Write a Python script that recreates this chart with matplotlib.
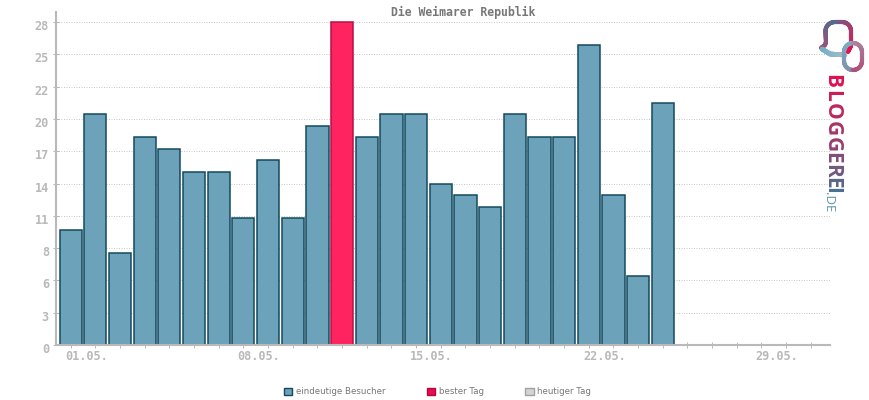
import numpy as np
import matplotlib
matplotlib.use("Agg")
import matplotlib.pyplot as plt
from matplotlib.patches import Patch
from matplotlib.collections import LineCollection
from matplotlib.colors import to_rgb
from matplotlib.transforms import ScaledTranslation

title = "Die Weimarer Republik"
days = list(range(1, 32))
visitors = [10, 20, 8, 18, 17, 15, 15, 11, 16, 11, 19, 28, 18, 20, 20, 14, 13, 12,
            20, 18, 18, 26, 13, 6, 21]
best_day = 12
y_ticks = [0, 2.8, 5.6, 8.4, 11.2, 14, 16.8, 19.6, 22.4, 25.2, 28]
y_labels = ["0", "3", "6", "8", "11", "14", "17", "20", "22", "25", "28"]
x_label_days = [1, 8, 15, 22, 29]
x_labels = ["01.05.", "08.05.", "15.05.", "22.05.", "29.05."]
legend_labels = ["eindeutige Besucher", "bester Tag", "heutiger Tag"]

BLUE, EDGE = "#6ca3bb", "#134a5e"
RED, RED_EDGE = "#ff2460", "#b80f45"
GREY = "#b9b9b9"
W, H = 870, 400
MONO = "DejaVu Sans Mono"

fig = plt.figure(figsize=(W / 100, H / 100), dpi=100, facecolor="white")
ax = fig.add_axes([56 / W, 1 - 345 / H, (830 - 56) / W, (345 - 12) / H])
px_per_day = (810.8 - 70.7) / 30
ax.set_xlim(1 + (56 - 70.7) / px_per_day, 1 + (830 - 70.7) / px_per_day)
ax.set_ylim(0, 28 * 333 / 323)

colors = [RED if d == best_day else BLUE for d in days[:len(visitors)]]
edges = [RED_EDGE if d == best_day else EDGE for d in days[:len(visitors)]]
ax.bar(days[:len(visitors)], visitors, width=0.9, color=colors, edgecolor=edges,
       linewidth=1.1, zorder=2, clip_on=False)

ax.set_yticks(y_ticks, y_labels)
ax.set_xticks(days)
ax.set_xticklabels([])
ax.grid(axis="y", color="#c8c8c8", linestyle=(0, (1, 1.5)), linewidth=0.72, zorder=1)
ax.set_axisbelow(True)
for side in ("top", "right"):
    ax.spines[side].set_visible(False)
for side in ("left", "bottom"):
    ax.spines[side].set_color(GREY)
    ax.spines[side].set_linewidth(1.5)
    ax.spines[side].set_zorder(3)
ax.tick_params(axis="both", direction="inout", length=3.8, width=0.72, color=GREY,
               labelcolor=GREY, labelsize=8.6)
ax.tick_params(axis="y", pad=3.2)
shift = ScaledTranslation(0, -3 / 100, fig.dpi_scale_trans)
for lab in ax.get_yticklabels():
    lab.set_fontfamily(MONO)
    lab.set_fontweight("bold")
    lab.set_transform(lab.get_transform() + shift)
for d, lab in zip(x_label_days, x_labels):
    ax.annotate(lab, (d, 0), xytext=(15.5 * 0.72, -8), textcoords="offset points",
                ha="center", va="center", color=GREY, fontsize=8.6,
                family=MONO, fontweight="bold", annotation_clip=False)

fig.text(463 / W, 1 - 12 / H, title, ha="center", va="center", fontsize=8.3,
         family=MONO, fontweight="bold", color="#777777")

handles = [Patch(facecolor=BLUE, edgecolor=EDGE, linewidth=1),
           Patch(facecolor="#f5054f", edgecolor="#a01040", linewidth=1),
           Patch(facecolor="#d3d3d3", edgecolor="#a0a0a0", linewidth=1)]
fig.legend(handles, legend_labels, ncol=3, frameon=False, loc="center left",
           bbox_to_anchor=(284 / W, 1 - 392 / H),
           prop={"family": "DejaVu Sans", "size": 6.25}, labelcolor="#777777",
           handlelength=0.95, handleheight=0.95, handletextpad=0.45, columnspacing=4.75,
           borderpad=0, borderaxespad=0)

# Blogger logo drawn in pixel coordinates
logo = fig.add_axes([0, 0, 1, 1], facecolor="none", zorder=5)
logo.set_xlim(0, W)
logo.set_ylim(H, 0)
logo.axis("off")


def grad(pts, c0, c1, lw):
    pts = np.asarray(pts, float)
    t = np.linspace(0, 1, 80)
    s = np.r_[0, np.cumsum(np.hypot(*np.diff(pts, axis=0).T))]
    xy = np.c_[np.interp(t * s[-1], s, pts[:, 0]), np.interp(t * s[-1], s, pts[:, 1])]
    seg = np.stack([xy[:-1], xy[1:]], axis=1)
    a, b = np.array(to_rgb(c0)), np.array(to_rgb(c1))
    cols = [a + (b - a) * v for v in t[:-1]]
    logo.add_collection(LineCollection(seg, colors=cols, linewidths=lw, capstyle="round"))


def arc(cx, cy, rx, ry, a0, a1, n=16):
    a = np.radians(np.linspace(a0, a1, n))
    return np.c_[cx + rx * np.cos(a), cy + ry * np.sin(a)]


grad(np.r_[[[821, 48], [825, 45], [826, 42]], arc(835, 31, 9.5, 9, 180, 270), [[838, 22]]],
     "#a04f78", "#4f6f8f", 3)
grad(np.r_[[[838, 22]], arc(842, 31, 9, 9, 270, 360), [[851, 46], [848, 52]]],
     "#7a5a85", "#e8104f", 3)
grad([[822, 49], [830, 54], [845, 55]], "#6fb0c6", "#a5bcc8", 3.4)
grad(np.r_[arc(853, 52, 9, 9, 270, 180), arc(853, 61, 9, 9, 180, 90)],
     "#7fb0c4", "#8090ac", 3)
grad(np.r_[arc(853, 52, 9, 9, 270, 360), arc(853, 61, 9, 9, 0, 90)],
     "#a88aa0", "#b04f78", 3)

word = "BLOGGEREI"
word_c0, word_c1 = np.array(to_rgb("#e0104f")), np.array(to_rgb("#4a7090"))
ypos = [81, 96, 111.5, 128.5, 145, 158, 170.5, 182.5, 190.5]
for i, (ch, y) in enumerate(zip(word, ypos)):
    logo.text(832, y, ch, rotation=-90, ha="center", va="center", fontsize=15,
              family="Open Sans", fontweight="bold",
              color=word_c0 + (word_c1 - word_c0) * i / (len(word) - 1))
logo.text(829, 202.5, ".DE", rotation=-90, ha="center", va="center", fontsize=9.5,
          family="Open Sans", color="#5f95ad")

fig.savefig("out.png", dpi=100, facecolor="white")
